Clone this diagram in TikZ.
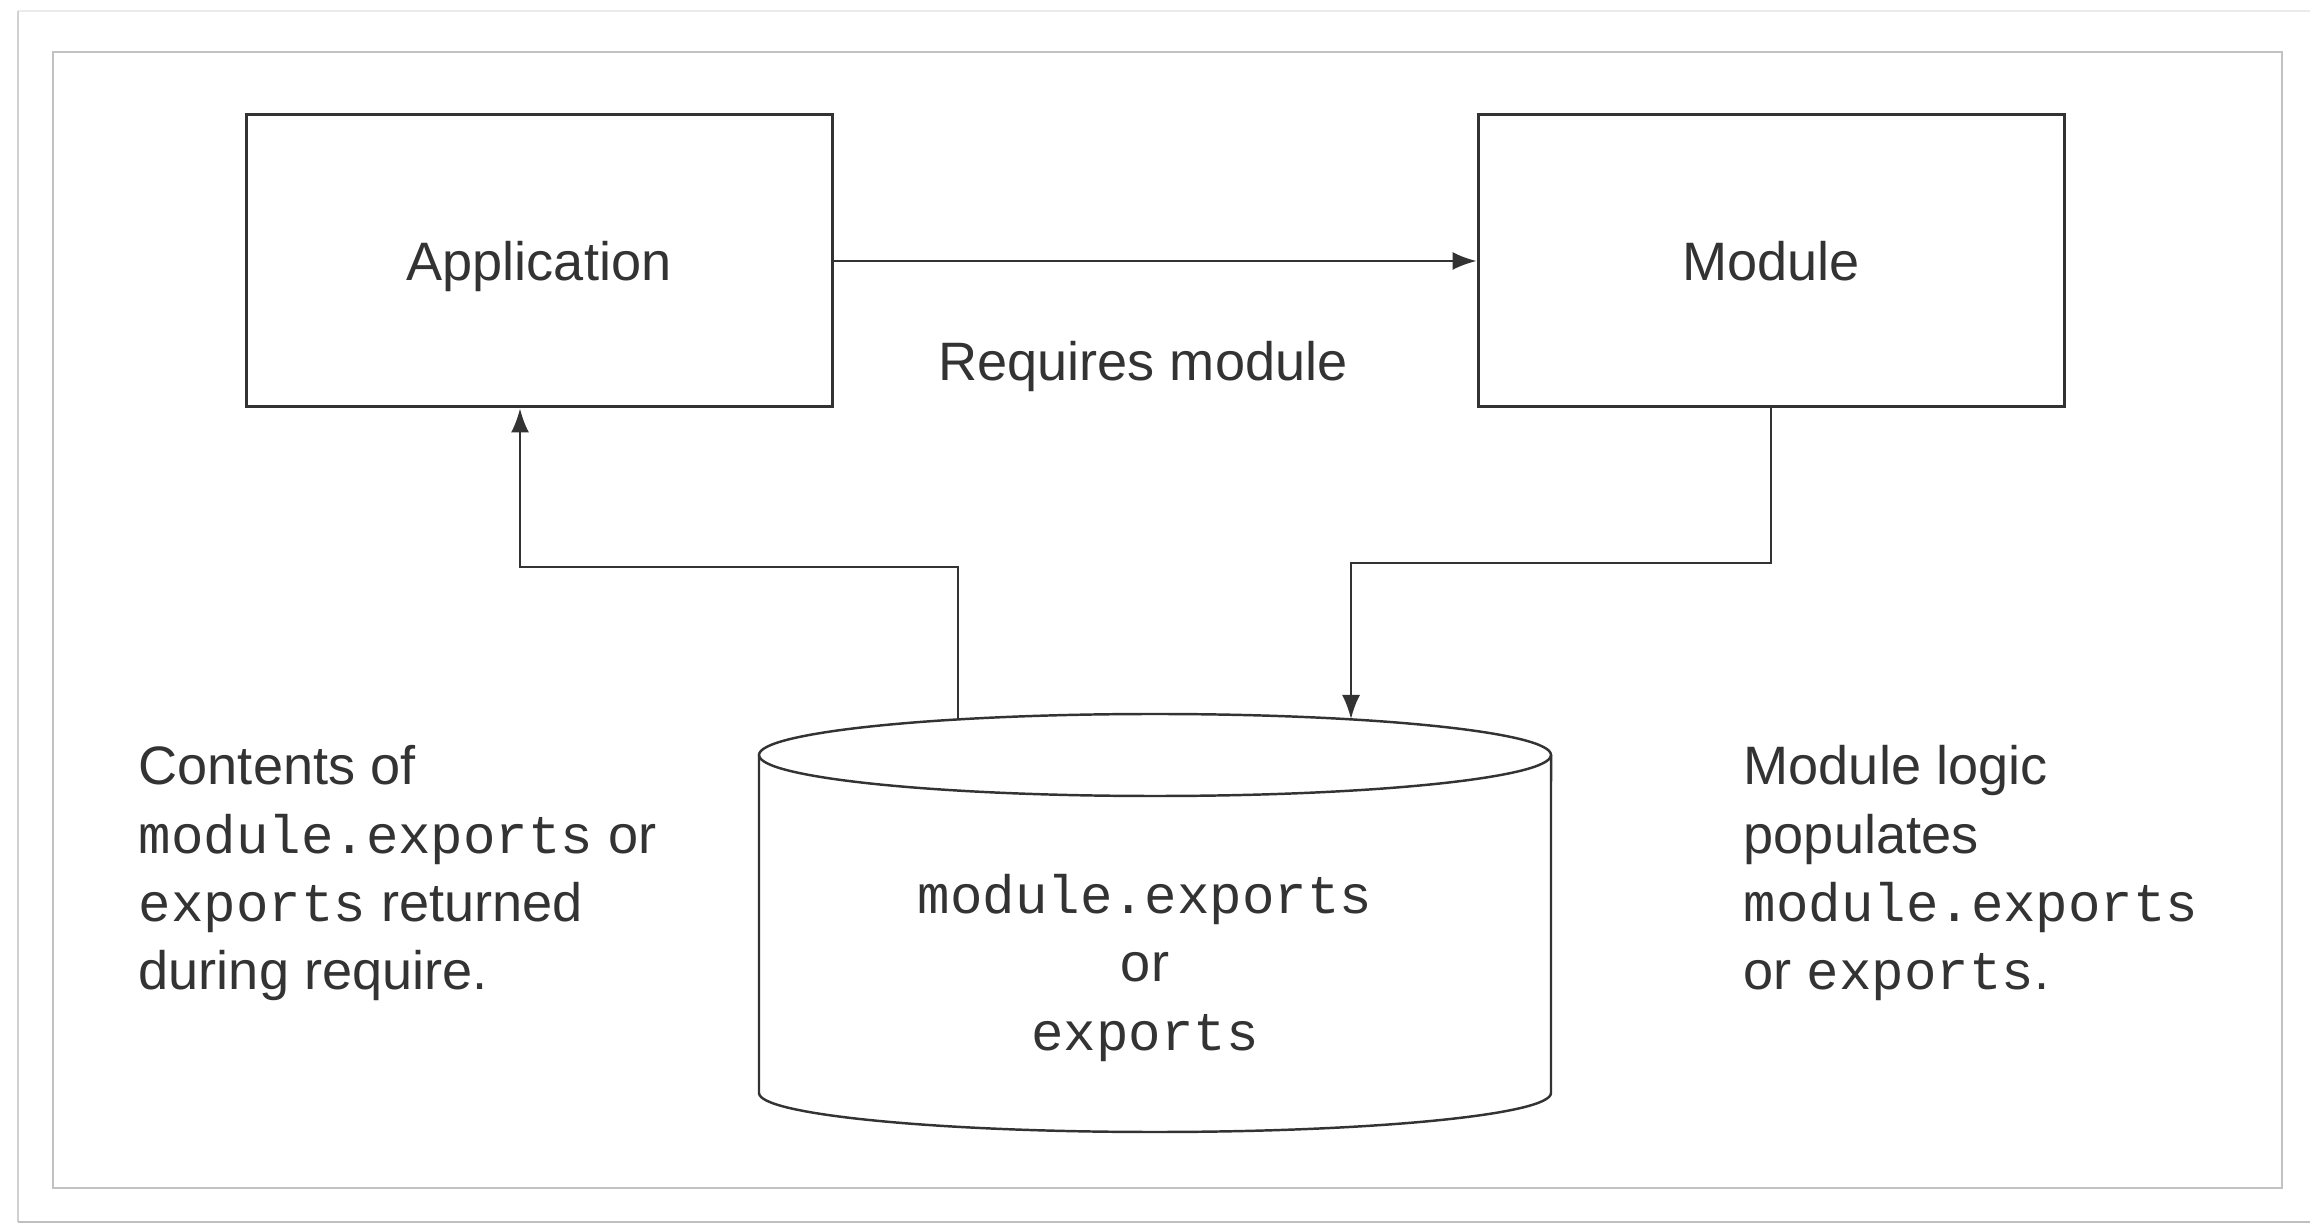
\documentclass[tikz,border=0pt]{standalone}
\usepackage{fontspec}
\setmainfont{Liberation Sans}
\setmonofont{Liberation Mono}
\usetikzlibrary{arrows.meta}
\definecolor{inkgray}{HTML}{333333}
\definecolor{panelgray}{HTML}{C2C2C2}

\begin{document}
\begin{tikzpicture}[
    x=0.1mm, y=-0.1mm,
    every node/.style={font=\fontsize{15.4pt}{19.4pt}\selectfont, text=inkgray},
    block/.style={draw=inkgray, line width=0.85pt, rectangle, inner sep=0pt,
                  minimum width=58.6mm, minimum height=29.2mm,
                  text height=3.9mm, text depth=0pt},
    note/.style={align=left, inner sep=0pt, anchor=north west},
    drum/.style={draw=inkgray, line width=0.7pt},
    link/.style={-{Latex[length=2.4mm,width=1.8mm]}, line width=0.6pt, draw=inkgray},
    sheet/.style={line width=0.8pt},
    panel/.style={draw=panelgray, line width=0.6pt}
]
\useasboundingbox (0,0) rectangle (2310,1224);

% --- page edge and panel ---
\draw[sheet, draw=black!8] (2310,11) -- (18,11);
\draw[sheet, draw=black!18] (18,11) -- (18,1222);
\draw[sheet, draw=black!25] (18,1222) -- (2310,1222);
\draw[panel] (53,52) rectangle (2282,1188);

% --- the two blocks ---
\node[block] (app) at (539,261) {Application};
\node[block] (mod) at (1771,261) {Module};

\draw[link] (app.east) -- (mod.west);
\node (req) at (1143,381) [anchor=base, inner sep=0pt] {Requires module};

% --- exports store ---
\draw[drum] (759,755) -- (759,1093)
    arc[start angle=180, end angle=360, x radius=39.6mm, y radius=3.9mm] -- (1551,755);
\draw[drum] (1155,755) ellipse [x radius=39.6mm, y radius=4.1mm];
\node[align=center, inner sep=0pt] (store) at (1145,968)
     {\texttt{module.exports}\\or\\\texttt{exports}};

% --- return path and populate path ---
\coordinate (tapL) at (958,719);
\coordinate (jointL) at (520,567);
\draw[link] (tapL) |- (jointL) -- (jointL |- app.south);

\coordinate (tapR) at (1351,719);
\coordinate (jointR) at (1771,563);
\draw[link] (mod.south) -- (jointR) -| (tapR);

% --- side notes ---
\node[note] (retnote) at (138,745) {Contents of\\
    \texttt{module.exports} or\\
    \texttt{exports} returned\\
    during require.};
\node[note] (popnote) at (1743,745) {Module logic\\
    populates\\
    \texttt{module.exports}\\
    or \texttt{exports}.};

\end{tikzpicture}
\end{document}
